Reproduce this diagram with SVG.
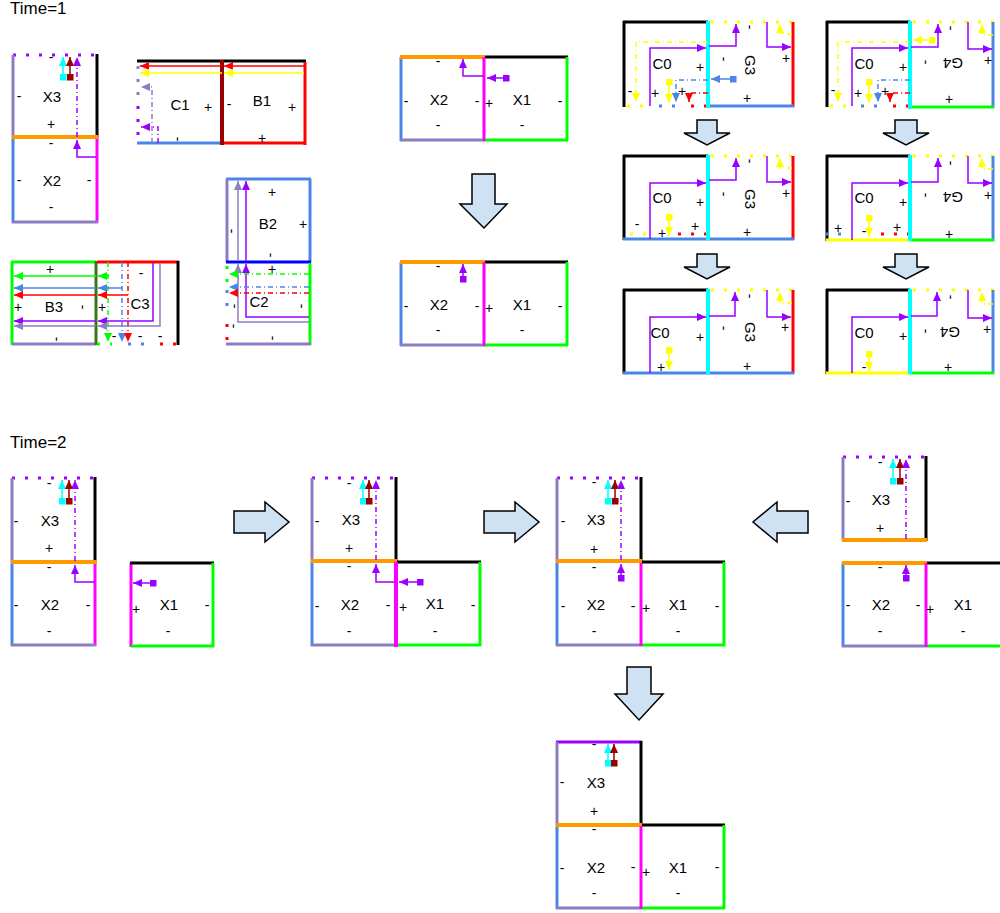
<svg xmlns="http://www.w3.org/2000/svg" width="1000" height="913" viewBox="0 0 1000 913">
<style>
.e{fill:none;stroke-width:3}
.k{stroke:#000}
.pg{stroke:#8e7cc3}
.bl{stroke:#4a86e8}
.mg{stroke:#ff00ff}
.or{stroke:#ff9900;stroke-width:4}
.gr{stroke:#00ff00}
.rd{stroke:#ff0000}
.dr{stroke:#990000}
.cy{stroke:#00ffff;stroke-width:4}
.ye{stroke:#ffff00}
.vi{stroke:#9900ff}
.dg{stroke:#38761d}
.db{stroke:#0000ff}
.w4{stroke-width:4}
.dot{stroke-dasharray:3 10}
.a{fill:none;stroke-width:1.5}
.dd{stroke-dasharray:5 3 1 3}
.t{font-family:"Liberation Sans",Arial,sans-serif;font-size:15px;text-anchor:middle;fill:#000}
.s{font-size:14px}
.h{font-size:17px;text-anchor:start}
.ba{fill:#cfe2f3;stroke:#000;stroke-width:1.5}
</style>
<defs>
<marker id="aV" viewBox="0 0 10 10" refX="10" refY="5" markerWidth="9" markerHeight="8" orient="auto" markerUnits="userSpaceOnUse" preserveAspectRatio="none"><path d="M0,0L10,5L0,10z" fill="#9900ff"/></marker>
<marker id="aC" viewBox="0 0 10 10" refX="10" refY="5" markerWidth="9" markerHeight="8" orient="auto" markerUnits="userSpaceOnUse" preserveAspectRatio="none"><path d="M0,0L10,5L0,10z" fill="#00ffff"/></marker>
<marker id="aD" viewBox="0 0 10 10" refX="10" refY="5" markerWidth="9" markerHeight="8" orient="auto" markerUnits="userSpaceOnUse" preserveAspectRatio="none"><path d="M0,0L10,5L0,10z" fill="#990000"/></marker>
<marker id="aY" viewBox="0 0 10 10" refX="10" refY="5" markerWidth="9" markerHeight="8" orient="auto" markerUnits="userSpaceOnUse" preserveAspectRatio="none"><path d="M0,0L10,5L0,10z" fill="#ffff00"/></marker>
<marker id="aB" viewBox="0 0 10 10" refX="10" refY="5" markerWidth="9" markerHeight="8" orient="auto" markerUnits="userSpaceOnUse" preserveAspectRatio="none"><path d="M0,0L10,5L0,10z" fill="#4a86e8"/></marker>
<marker id="aR" viewBox="0 0 10 10" refX="10" refY="5" markerWidth="9" markerHeight="8" orient="auto" markerUnits="userSpaceOnUse" preserveAspectRatio="none"><path d="M0,0L10,5L0,10z" fill="#ff0000"/></marker>
<marker id="aG" viewBox="0 0 10 10" refX="10" refY="5" markerWidth="9" markerHeight="8" orient="auto" markerUnits="userSpaceOnUse" preserveAspectRatio="none"><path d="M0,0L10,5L0,10z" fill="#00ff00"/></marker>
<marker id="aP" viewBox="0 0 10 10" refX="10" refY="5" markerWidth="9" markerHeight="8" orient="auto" markerUnits="userSpaceOnUse" preserveAspectRatio="none"><path d="M0,0L10,5L0,10z" fill="#8e7cc3"/></marker>
<marker id="sV" viewBox="0 0 10 10" refX="5" refY="5" markerWidth="7" markerHeight="7" markerUnits="userSpaceOnUse"><rect width="10" height="10" fill="#9900ff"/></marker>
<marker id="sC" viewBox="0 0 10 10" refX="5" refY="5" markerWidth="7" markerHeight="7" markerUnits="userSpaceOnUse"><rect width="10" height="10" fill="#00ffff"/></marker>
<marker id="sD" viewBox="0 0 10 10" refX="5" refY="5" markerWidth="7" markerHeight="7" markerUnits="userSpaceOnUse"><rect width="10" height="10" fill="#990000"/></marker>
<marker id="sY" viewBox="0 0 10 10" refX="5" refY="5" markerWidth="7" markerHeight="7" markerUnits="userSpaceOnUse"><rect width="10" height="10" fill="#ffff00"/></marker>
<marker id="sB" viewBox="0 0 10 10" refX="5" refY="5" markerWidth="7" markerHeight="7" markerUnits="userSpaceOnUse"><rect width="10" height="10" fill="#4a86e8"/></marker>
</defs>
<rect width="1000" height="913" fill="#fff"/>
<text class="t h" x="10" y="14">Time=1</text>
<text class="t h" x="10" y="448">Time=2</text>

<!-- ===== Time=1: X3/X2 ===== -->
<g id="t1a-x3">
<line class="e vi dot" x1="13" y1="55" x2="97" y2="55"/>
<line class="e pg" x1="13" y1="55" x2="13" y2="137"/>
<line class="e k" x1="97" y1="54" x2="97" y2="137"/>
<text class="t s" x="51" y="62">-</text>
<text class="t" x="52" y="102">X3</text>
<text class="t s" x="19" y="101">-</text>
<text class="t s" x="51" y="129">+</text>
</g>
<g id="t1a-x2">
<line class="e bl" x1="13" y1="137" x2="13" y2="223"/>
<line class="e mg" x1="97" y1="137" x2="97" y2="223"/>
<line class="e pg" x1="12" y1="222" x2="98" y2="222"/>
<line class="e or" x1="12" y1="137" x2="98" y2="137"/>
<text class="t s" x="51" y="148">-</text>
<text class="t s" x="19" y="185">-</text>
<text class="t" x="52" y="186">X2</text>
<text class="t s" x="89" y="185">-</text>
<text class="t s" x="51" y="212">-</text>
</g>

<!-- ===== C1/B1 ===== -->
<g id="t1-c1">
<line class="e k" x1="137" y1="61" x2="222" y2="61"/>
<line class="e pg dot" x1="138" y1="66" x2="138" y2="100"/>
<line class="e vi dot" x1="138" y1="106" x2="138" y2="143"/>
<line class="e bl" x1="137" y1="143" x2="222" y2="143"/>
<text class="t" x="180" y="110">C1</text>
<text class="t s" x="208" y="112">+</text>
<text class="t s" x="177" y="143" transform="rotate(90 177 139)">-</text>
</g>
<g id="t1-b1">
<line class="e k" x1="222" y1="61" x2="306" y2="61"/>
<line class="e rd" x1="305" y1="62" x2="305" y2="145"/>
<line class="e rd" x1="222" y1="143" x2="306" y2="143"/>
<line class="e dr w4" x1="222" y1="60" x2="222" y2="145"/>
<text class="t s" x="229" y="109">-</text>
<text class="t" x="262" y="106">B1</text>
<text class="t s" x="292" y="112">+</text>
<text class="t s" x="262" y="143">+</text>
</g>

<!-- ===== B3/C3 ===== -->
<g id="t1-b3">
<line class="e gr" x1="11" y1="262" x2="96" y2="262"/>
<line class="e gr" x1="12" y1="262" x2="12" y2="345"/>
<line class="e pg" x1="12" y1="344" x2="96" y2="344"/>
<line class="e dg" x1="96" y1="261" x2="96" y2="345"/>
<text class="t s" x="50" y="274">+</text>
<text class="t" x="54" y="312">B3</text>
<text class="t s" x="18" y="312">+</text>
<text class="t s" x="82" y="311" transform="rotate(90 82 307)">-</text>
<text class="t s" x="56" y="343" transform="rotate(90 56 339)">-</text>
</g>
<g id="t1-c3">
<line class="e rd" x1="97" y1="262" x2="179" y2="262"/>
<line class="e k" x1="178" y1="261" x2="178" y2="345"/>
<line class="e gr dot" x1="97" y1="344" x2="112" y2="344"/>
<line class="e bl dot" x1="128" y1="344" x2="146" y2="344"/>
<line class="e rd dot" x1="160" y1="344" x2="178" y2="344"/>
<text class="t s" x="102" y="312">+</text>
<text class="t s" x="141" y="278">-</text>
<text class="t" x="140" y="309">C3</text>
<text class="t s" x="114" y="341">-</text>
<text class="t s" x="140" y="341">-</text>
<text class="t s" x="160" y="341">-</text>
</g>

<!-- ===== B2/C2 ===== -->
<g id="t1-b2">
<line class="e bl" x1="226" y1="179" x2="311" y2="179"/>
<line class="e pg" x1="227" y1="179" x2="227" y2="262"/>
<line class="e bl" x1="310" y1="179" x2="310" y2="262"/>
<line class="e db" x1="226" y1="262" x2="311" y2="262"/>
<text class="t s" x="272" y="197">+</text>
<text class="t" x="268" y="229">B2</text>
<text class="t s" x="303" y="229">+</text>
<text class="t s" x="231" y="235" transform="rotate(90 231 231)">-</text>
<text class="t s" x="270" y="259" transform="rotate(90 270 255)">-</text>
</g>
<g id="t1-c2">
<line class="e gr" x1="310" y1="263" x2="310" y2="345"/>
<line class="e pg" x1="226" y1="344" x2="311" y2="344"/>
<line class="e gr dot" x1="227" y1="266" x2="227" y2="282"/>
<line class="e bl dot" x1="227" y1="290" x2="227" y2="312"/>
<line class="e rd dot" x1="227" y1="324" x2="227" y2="344"/>
<text class="t s" x="272" y="274">+</text>
<text class="t" x="259" y="307">C2</text>
<text class="t s" x="234" y="310" transform="rotate(90 234 306)">-</text>
<text class="t s" x="233" y="330" transform="rotate(90 233 326)">-</text>
<text class="t s" x="301" y="310" transform="rotate(90 301 306)">-</text>
<text class="t s" x="272" y="342" transform="rotate(90 272 338)">-</text>
</g>

<!-- ===== middle X2/X1 ===== -->
<g id="t1b-x2">
<line class="e bl" x1="401" y1="57" x2="401" y2="141"/>
<line class="e pg" x1="400" y1="140" x2="485" y2="140"/>
<line class="e or" x1="400" y1="57" x2="485" y2="57"/>
<text class="t s" x="438" y="66">-</text>
<text class="t s" x="406" y="106">-</text>
<text class="t" x="439" y="105">X2</text>
<text class="t s" x="477" y="106">-</text>
<text class="t s" x="438" y="130">-</text>
</g>
<g id="t1b-x1">
<line class="e k" x1="485" y1="57" x2="568" y2="57"/>
<line class="e gr" x1="567" y1="57" x2="567" y2="141"/>
<line class="e gr" x1="484" y1="140" x2="568" y2="140"/>
<line class="e mg" x1="484" y1="57" x2="484" y2="141"/>
<text class="t s" x="489" y="108">+</text>
<text class="t" x="522" y="105">X1</text>
<text class="t s" x="560" y="106">-</text>
<text class="t s" x="522" y="130">-</text>
</g>
<g id="t1c-x2">
<line class="e bl" x1="401" y1="262" x2="401" y2="346"/>
<line class="e pg" x1="400" y1="345" x2="485" y2="345"/>
<line class="e or" x1="400" y1="262" x2="485" y2="262"/>
<text class="t s" x="438" y="271">-</text>
<text class="t s" x="406" y="311">-</text>
<text class="t" x="439" y="310">X2</text>
<text class="t s" x="477" y="311">-</text>
<text class="t s" x="438" y="335">-</text>
</g>
<g id="t1c-x1">
<line class="e k" x1="485" y1="262" x2="568" y2="262"/>
<line class="e gr" x1="567" y1="262" x2="567" y2="346"/>
<line class="e gr" x1="484" y1="345" x2="568" y2="345"/>
<line class="e mg" x1="484" y1="262" x2="484" y2="346"/>
<text class="t s" x="489" y="313">+</text>
<text class="t" x="522" y="310">X1</text>
<text class="t s" x="560" y="311">-</text>
<text class="t s" x="522" y="335">-</text>
</g>

<!-- ===== C0/G3 column ===== -->
<g id="g3r1-c0">
<line class="e k" x1="624" y1="21" x2="624" y2="107"/>
<line class="e k" x1="623" y1="22" x2="708" y2="22"/>
<line class="e ye dot" x1="627" y1="106" x2="647" y2="106"/>
<line class="e bl dot" x1="659" y1="106" x2="678" y2="106"/>
<line class="e rd dot" x1="691" y1="106" x2="708" y2="106"/>
<text class="t" x="662" y="69">C0</text>
<text class="t s" x="700" y="72">+</text>
<text class="t s" x="630" y="96">-</text>
<text class="t s" x="655" y="98">+</text>
<text class="t s" x="682" y="96">+</text>
</g>
<g id="g3r1-g3">
<line class="e ye dot" x1="711" y1="22" x2="795" y2="22"/>
<line class="e rd" x1="793" y1="22" x2="793" y2="107"/>
<line class="e bl" x1="708" y1="106" x2="794" y2="106"/>
<line class="e cy" x1="708" y1="21" x2="708" y2="108"/>
<text class="t s" x="723" y="63" transform="rotate(90 723 59)">-</text>
<text class="t" x="750" y="70" transform="rotate(90 750 65)">G3</text>
<text class="t s" x="749" y="31" transform="rotate(90 749 27)">-</text>
<text class="t s" x="786" y="63">+</text>
<text class="t s" x="747" y="103">+</text>
</g>
<g id="g3r2-c0">
<line class="e k" x1="624" y1="155" x2="624" y2="240"/>
<line class="e k" x1="623" y1="156" x2="708" y2="156"/>
<line class="e ye dot" x1="630" y1="234" x2="650" y2="234"/>
<line class="e rd dot" x1="678" y1="234" x2="708" y2="234"/>
<text class="t" x="662" y="203">C0</text>
<text class="t s" x="700" y="207">+</text>
<text class="t s" x="637" y="229">-</text>
<text class="t s" x="662" y="238">+</text>
<text class="t s" x="695" y="231">+</text>
</g>
<g id="g3r2-g3">
<line class="e ye dot" x1="711" y1="156" x2="795" y2="156"/>
<line class="e rd" x1="793" y1="156" x2="793" y2="240"/>
<line class="e bl" x1="623" y1="239" x2="794" y2="239"/>
<line class="e cy" x1="708" y1="155" x2="708" y2="240"/>
<text class="t s" x="723" y="198" transform="rotate(90 723 194)">-</text>
<text class="t" x="750" y="204" transform="rotate(90 750 199)">G3</text>
<text class="t s" x="749" y="165" transform="rotate(90 749 161)">-</text>
<text class="t s" x="786" y="198">+</text>
<text class="t s" x="747" y="237">+</text>
</g>
<g id="g3r3-c0">
<line class="e k" x1="624" y1="289" x2="624" y2="374"/>
<line class="e k" x1="623" y1="290" x2="708" y2="290"/>
<text class="t" x="660" y="338">C0</text>
<text class="t s" x="700" y="342">+</text>
<text class="t s" x="661" y="372">+</text>
</g>
<g id="g3r3-g3">
<line class="e ye dot" x1="711" y1="290" x2="795" y2="290"/>
<line class="e rd" x1="793" y1="290" x2="793" y2="374"/>
<line class="e bl" x1="623" y1="373" x2="794" y2="373"/>
<line class="e cy" x1="708" y1="289" x2="708" y2="374"/>
<text class="t s" x="723" y="332" transform="rotate(90 723 328)">-</text>
<text class="t" x="750" y="337" transform="rotate(90 750 332)">G3</text>
<text class="t s" x="749" y="300" transform="rotate(90 749 296)">-</text>
<text class="t s" x="785" y="332">+</text>
<text class="t s" x="747" y="371">+</text>
</g>

<!-- ===== C0/G4 column ===== -->
<g id="g4r1-c0">
<line class="e k" x1="827" y1="21" x2="827" y2="107"/>
<line class="e k" x1="826" y1="22" x2="910" y2="22"/>
<line class="e ye dot" x1="830" y1="106" x2="850" y2="106"/>
<line class="e bl dot" x1="861" y1="106" x2="880" y2="106"/>
<line class="e rd dot" x1="893" y1="106" x2="910" y2="106"/>
<text class="t" x="864" y="69">C0</text>
<text class="t s" x="903" y="72">+</text>
<text class="t s" x="833" y="95">-</text>
<text class="t s" x="858" y="98">+</text>
<text class="t s" x="885" y="96">+</text>
</g>
<g id="g4r1-g4">
<line class="e ye dot" x1="913" y1="22" x2="997" y2="22"/>
<line class="e bl" x1="993" y1="22" x2="993" y2="108"/>
<line class="e gr" x1="910" y1="107" x2="994" y2="107"/>
<line class="e cy" x1="910" y1="21" x2="910" y2="109"/>
<text class="t s" x="925" y="66" transform="rotate(90 925 62)">-</text>
<text class="t" x="953" y="68" transform="rotate(180 953 63)">G4</text>
<text class="t s" x="950" y="32" transform="rotate(90 950 28)">-</text>
<text class="t s" x="988" y="65">+</text>
<text class="t s" x="949" y="104">+</text>
</g>
<g id="g4r2-c0">
<line class="e k" x1="827" y1="155" x2="827" y2="241"/>
<line class="e k" x1="826" y1="156" x2="910" y2="156"/>
<line class="e bl dot" x1="825" y1="234" x2="850" y2="234"/>
<line class="e rd dot" x1="881" y1="234" x2="910" y2="234"/>
<line class="e ye" x1="826" y1="240" x2="910" y2="240"/>
<text class="t" x="864" y="203">C0</text>
<text class="t s" x="903" y="207">+</text>
<text class="t s" x="838" y="233">+</text>
<text class="t s" x="864" y="236">-</text>
<text class="t s" x="897" y="232">+</text>
</g>
<g id="g4r2-g4">
<line class="e ye dot" x1="913" y1="156" x2="997" y2="156"/>
<line class="e bl" x1="993" y1="156" x2="993" y2="241"/>
<line class="e gr" x1="910" y1="240" x2="994" y2="240"/>
<line class="e cy" x1="910" y1="155" x2="910" y2="241"/>
<text class="t s" x="925" y="199" transform="rotate(90 925 195)">-</text>
<text class="t" x="953" y="202" transform="rotate(180 953 197)">G4</text>
<text class="t s" x="950" y="167" transform="rotate(90 950 163)">-</text>
<text class="t s" x="988" y="200">+</text>
<text class="t s" x="949" y="239">+</text>
</g>
<g id="g4r3-c0">
<line class="e k" x1="827" y1="289" x2="827" y2="374"/>
<line class="e k" x1="826" y1="290" x2="910" y2="290"/>
<line class="e ye" x1="826" y1="373" x2="910" y2="373"/>
<text class="t" x="864" y="338">C0</text>
<text class="t s" x="903" y="341">+</text>
<text class="t s" x="864" y="372">-</text>
</g>
<g id="g4r3-g4">
<line class="e ye dot" x1="913" y1="290" x2="997" y2="290"/>
<line class="e bl" x1="993" y1="290" x2="993" y2="374"/>
<line class="e gr" x1="910" y1="373" x2="994" y2="373"/>
<line class="e cy" x1="910" y1="289" x2="910" y2="374"/>
<text class="t s" x="925" y="335" transform="rotate(90 925 331)">-</text>
<text class="t" x="950" y="337" transform="rotate(180 950 332)">G4</text>
<text class="t s" x="950" y="301" transform="rotate(90 950 297)">-</text>
<text class="t s" x="987" y="334">+</text>
<text class="t s" x="948" y="372">+</text>
</g>

<!-- ===== Time=2 panel 1 ===== -->
<g id="t2a-x3">
<line class="e vi dot" x1="12" y1="478" x2="96" y2="478"/>
<line class="e pg" x1="12" y1="478" x2="12" y2="562"/>
<line class="e k" x1="95" y1="477" x2="95" y2="562"/>
<text class="t s" x="49" y="488">-</text>
<text class="t s" x="16" y="526">-</text>
<text class="t" x="50" y="526">X3</text>
<text class="t s" x="49" y="553">+</text>
</g>
<g id="t2a-x2">
<line class="e bl" x1="12" y1="562" x2="12" y2="646"/>
<line class="e mg" x1="95" y1="562" x2="95" y2="646"/>
<line class="e pg" x1="11" y1="645" x2="96" y2="645"/>
<line class="e or" x1="11" y1="562" x2="97" y2="562"/>
<text class="t s" x="49" y="572">-</text>
<text class="t s" x="16" y="610">-</text>
<text class="t" x="50" y="610">X2</text>
<text class="t s" x="88" y="610">-</text>
<text class="t s" x="49" y="636">-</text>
</g>
<g id="t2a-x1">
<line class="e mg" x1="131" y1="563" x2="131" y2="647"/>
<line class="e k" x1="130" y1="563" x2="214" y2="563"/>
<line class="e gr" x1="213" y1="563" x2="213" y2="647"/>
<line class="e gr" x1="131" y1="646" x2="214" y2="646"/>
<text class="t s" x="136" y="614">+</text>
<text class="t" x="169" y="610">X1</text>
<text class="t s" x="207" y="610">-</text>
<text class="t s" x="168" y="636">-</text>
</g>

<!-- ===== Time=2 panel 2 ===== -->
<g id="t2b-x3">
<line class="e vi dot" x1="312" y1="478" x2="396" y2="478"/>
<line class="e pg" x1="312" y1="478" x2="312" y2="561"/>
<line class="e k" x1="396" y1="477" x2="396" y2="562"/>
<text class="t s" x="349" y="488">-</text>
<text class="t s" x="317" y="526">-</text>
<text class="t" x="351" y="525">X3</text>
<text class="t s" x="349" y="553">+</text>
</g>
<g id="t2b-x2">
<line class="e bl" x1="312" y1="561" x2="312" y2="646"/>
<line class="e pg" x1="311" y1="645" x2="396" y2="645"/>
<line class="e or" x1="311" y1="561" x2="397" y2="561"/>
<text class="t s" x="349" y="571">-</text>
<text class="t s" x="317" y="611">-</text>
<text class="t" x="350" y="610">X2</text>
<text class="t s" x="388" y="610">-</text>
<text class="t s" x="349" y="636">-</text>
</g>
<g id="t2b-x1">
<line class="e k" x1="397" y1="562" x2="481" y2="562"/>
<line class="e gr" x1="480" y1="562" x2="480" y2="646"/>
<line class="e gr" x1="396" y1="645" x2="481" y2="645"/>
<line class="e mg w4" x1="396" y1="562" x2="396" y2="647"/>
<text class="t s" x="403" y="612">+</text>
<text class="t" x="435" y="609">X1</text>
<text class="t s" x="473" y="610">-</text>
<text class="t s" x="435" y="636">-</text>
</g>

<!-- ===== Time=2 panel 3 ===== -->
<g id="t2c-x3">
<line class="e vi dot" x1="557" y1="478" x2="641" y2="478"/>
<line class="e pg" x1="557" y1="478" x2="557" y2="561"/>
<line class="e k" x1="641" y1="477" x2="641" y2="562"/>
<text class="t s" x="594" y="487">-</text>
<text class="t s" x="563" y="526">-</text>
<text class="t" x="596" y="525">X3</text>
<text class="t s" x="594" y="554">+</text>
</g>
<g id="t2c-x2">
<line class="e bl" x1="557" y1="561" x2="557" y2="646"/>
<line class="e pg" x1="556" y1="645" x2="641" y2="645"/>
<line class="e or" x1="556" y1="561" x2="642" y2="561"/>
<text class="t s" x="594" y="572">-</text>
<text class="t s" x="563" y="611">-</text>
<text class="t" x="596" y="610">X2</text>
<text class="t s" x="633" y="611">-</text>
<text class="t s" x="594" y="636">-</text>
</g>
<g id="t2c-x1">
<line class="e k" x1="642" y1="562" x2="725" y2="562"/>
<line class="e gr" x1="724" y1="562" x2="724" y2="646"/>
<line class="e gr" x1="641" y1="645" x2="725" y2="645"/>
<line class="e mg" x1="641" y1="563" x2="641" y2="646"/>
<text class="t s" x="646" y="613">+</text>
<text class="t" x="678" y="610">X1</text>
<text class="t s" x="717" y="611">-</text>
<text class="t s" x="678" y="636">-</text>
</g>

<!-- ===== Time=2 panel 4 ===== -->
<g id="t2d-x3">
<line class="e vi dot" x1="843" y1="457" x2="927" y2="457"/>
<line class="e pg" x1="843" y1="457" x2="843" y2="540"/>
<line class="e k" x1="926" y1="456" x2="926" y2="541"/>
<line class="e or" x1="842" y1="540" x2="927" y2="540"/>
<text class="t s" x="880" y="467">-</text>
<text class="t s" x="848" y="506">-</text>
<text class="t" x="881" y="505">X3</text>
<text class="t s" x="880" y="533">+</text>
</g>
<g id="t2d-x2">
<line class="e bl" x1="843" y1="563" x2="843" y2="647"/>
<line class="e pg" x1="842" y1="646" x2="926" y2="646"/>
<line class="e or" x1="842" y1="563" x2="927" y2="563"/>
<text class="t s" x="880" y="572">-</text>
<text class="t s" x="848" y="610">-</text>
<text class="t" x="881" y="610">X2</text>
<text class="t s" x="918" y="610">-</text>
<text class="t s" x="880" y="636">-</text>
</g>
<g id="t2d-x1">
<line class="e k" x1="927" y1="563" x2="1000" y2="563"/>
<line class="e gr" x1="926" y1="646" x2="1000" y2="646"/>
<line class="e mg" x1="926" y1="563" x2="926" y2="647"/>
<text class="t s" x="930" y="614">+</text>
<text class="t" x="963" y="610">X1</text>
<text class="t s" x="963" y="636">-</text>
</g>

<!-- ===== Time=2 panel 5 ===== -->
<g id="t2e-x3">
<line class="e vi" x1="556" y1="742" x2="642" y2="742"/>
<line class="e pg" x1="557" y1="742" x2="557" y2="825"/>
<line class="e k" x1="641" y1="741" x2="641" y2="825"/>
<text class="t s" x="594" y="749">-</text>
<text class="t s" x="562" y="787">-</text>
<text class="t" x="596" y="788">X3</text>
<text class="t s" x="594" y="816">+</text>
</g>
<g id="t2e-x2">
<line class="e bl" x1="557" y1="825" x2="557" y2="909"/>
<line class="e pg" x1="556" y1="908" x2="641" y2="908"/>
<line class="e or" x1="556" y1="825" x2="642" y2="825"/>
<text class="t s" x="594" y="834">-</text>
<text class="t s" x="562" y="873">-</text>
<text class="t" x="596" y="873">X2</text>
<text class="t s" x="633" y="872">-</text>
<text class="t s" x="594" y="898">-</text>
</g>
<g id="t2e-x1">
<line class="e k" x1="642" y1="825" x2="725" y2="825"/>
<line class="e gr" x1="724" y1="825" x2="724" y2="909"/>
<line class="e gr" x1="641" y1="908" x2="725" y2="908"/>
<line class="e mg" x1="641" y1="826" x2="641" y2="909"/>
<text class="t s" x="646" y="877">+</text>
<text class="t" x="678" y="873">X1</text>
<text class="t s" x="717" y="872">-</text>
<text class="t s" x="678" y="898">-</text>
</g>

<!-- ===== transitions (block arrows) ===== -->
<g id="transitions">
<path class="ba" d="M472,174H495V204H507L484,228L460,204H472Z"/>
<path class="ba" d="M697,120H717V133H730L707,145L684,133H697Z"/>
<path class="ba" d="M697,254H717V267H730L707,279L684,267H697Z"/>
<path class="ba" d="M895,120H917V133H929L906,145L883,133H895Z"/>
<path class="ba" d="M895,254H917V267H929L906,279L883,267H895Z"/>
<path class="ba" d="M234,511H265V502L289,522L265,542V533H234Z"/>
<path class="ba" d="M484,511H515V502L539,522L515,542V533H484Z"/>
<path class="ba" d="M808,511H777V502L753,522L777,542V533H808Z"/>
<path class="ba" d="M627,667H651V694H663L639,720L615,694H627Z"/>
</g>

<!-- ===== connectors ===== -->
<g id="connectors">
<path class="a cy" d="M63,77V57" marker-start="url(#sC)" marker-end="url(#aC)"/>
<path class="a dr" d="M70,77V57" marker-start="url(#sD)" marker-end="url(#aD)"/>
<path class="a vi dd" d="M77,137V57" marker-end="url(#aV)"/>
<path class="a vi" d="M96,157H77V140" marker-end="url(#aV)"/>
<path class="a rd" d="M304,66H224" marker-end="url(#aR)"/>
<path class="a rd" d="M222,66H140" marker-end="url(#aR)"/>
<path class="a ye" d="M304,73H224" marker-end="url(#aY)"/>
<path class="a ye" d="M222,73H140" marker-end="url(#aY)"/>
<path class="a pg dd" d="M152,143V87H141" marker-end="url(#aP)"/>
<path class="a vi dd" d="M158,143V127H141" marker-end="url(#aV)"/>
<path class="a gr dd" d="M108,262V342" marker-end="url(#aG)"/>
<path class="a bl dd" d="M122,262V342" marker-end="url(#aB)"/>
<path class="a rd dd" d="M128,262V342" marker-end="url(#aR)"/>
<path class="a gr" d="M108,276H98" marker-end="url(#aG)"/>
<path class="a gr" d="M96,276H14" marker-end="url(#aG)"/>
<path class="a bl" d="M122,288H98" marker-end="url(#aB)"/>
<path class="a bl" d="M96,288H14" marker-end="url(#aB)"/>
<path class="a rd" d="M128,295H98" marker-end="url(#aR)"/>
<path class="a rd" d="M96,295H14" marker-end="url(#aR)"/>
<path class="a vi" d="M153,263V321H98" marker-end="url(#aV)"/>
<path class="a vi" d="M96,321H14" marker-end="url(#aV)"/>
<path class="a pg" d="M160,263V326H98" marker-end="url(#aP)"/>
<path class="a pg" d="M96,326H14" marker-end="url(#aP)"/>
<path class="a vi" d="M309,317H246V264" marker-end="url(#aV)"/>
<path class="a vi" d="M246,261V181" marker-end="url(#aV)"/>
<path class="a pg" d="M309,322H238V264" marker-end="url(#aP)"/>
<path class="a pg" d="M238,261V181" marker-end="url(#aP)"/>
<path class="a gr dd" d="M309,274H229" marker-end="url(#aG)"/>
<path class="a bl dd" d="M309,287H229" marker-end="url(#aB)"/>
<path class="a rd dd" d="M309,293H229" marker-end="url(#aR)"/>
<path class="a vi" d="M506,78H487" marker-start="url(#sV)" marker-end="url(#aV)"/>
<path class="a vi" d="M484,76H463V59" marker-end="url(#aV)"/>
<path class="a vi" d="M463,279V264" marker-start="url(#sV)" marker-end="url(#aV)"/>
<path class="a ye dd" d="M708,42H636V102" marker-end="url(#aY)"/>
<path class="a vi" d="M650,106V48H706" marker-end="url(#aV)"/>
<path class="a vi" d="M709,46H736V24" marker-end="url(#aV)"/>
<path class="a vi" d="M767,22V47H791" marker-end="url(#aV)"/>
<path class="a ye dd" d="M792,34H780V24" marker-end="url(#aY)"/>
<path class="a ye" d="M669,82V103" marker-start="url(#sY)" marker-end="url(#aY)"/>
<path class="a bl" d="M733,79H711" marker-start="url(#sB)" marker-end="url(#aB)"/>
<path class="a bl dd" d="M708,80H676V102" marker-end="url(#aB)"/>
<path class="a rd dd" d="M708,93H689V102" marker-end="url(#aR)"/>
<path class="a vi" d="M650,239V183H706" marker-end="url(#aV)"/>
<path class="a vi" d="M709,180H736V158" marker-end="url(#aV)"/>
<path class="a vi" d="M767,156V182H791" marker-end="url(#aV)"/>
<path class="a ye dd" d="M792,168H780V158" marker-end="url(#aY)"/>
<path class="a ye" d="M669,217V236" marker-start="url(#sY)" marker-end="url(#aY)"/>
<path class="a vi" d="M650,373V317H706" marker-end="url(#aV)"/>
<path class="a vi" d="M709,316H735V292" marker-end="url(#aV)"/>
<path class="a vi" d="M767,290V317H791" marker-end="url(#aV)"/>
<path class="a ye dd" d="M792,303H780V292" marker-end="url(#aY)"/>
<path class="a ye" d="M669,350V370" marker-start="url(#sY)" marker-end="url(#aY)"/>
<path class="a ye dd" d="M910,42H838V102" marker-end="url(#aY)"/>
<path class="a ye" d="M932,40H913" marker-start="url(#sY)" marker-end="url(#aY)"/>
<path class="a vi" d="M852,106V48H908" marker-end="url(#aV)"/>
<path class="a vi" d="M911,47H938V24" marker-end="url(#aV)"/>
<path class="a vi" d="M968,22V49H992" marker-end="url(#aV)"/>
<path class="a ye dd" d="M993,35H982V24" marker-end="url(#aY)"/>
<path class="a ye" d="M869,82V103" marker-start="url(#sY)" marker-end="url(#aY)"/>
<path class="a bl dd" d="M910,80H878V102" marker-end="url(#aB)"/>
<path class="a rd dd" d="M910,93H890V102" marker-end="url(#aR)"/>
<path class="a vi" d="M852,240V183H908" marker-end="url(#aV)"/>
<path class="a vi" d="M911,182H938V158" marker-end="url(#aV)"/>
<path class="a vi" d="M968,156V183H992" marker-end="url(#aV)"/>
<path class="a ye dd" d="M993,169H982V158" marker-end="url(#aY)"/>
<path class="a ye" d="M869,218V237" marker-start="url(#sY)" marker-end="url(#aY)"/>
<path class="a vi" d="M852,373V317H908" marker-end="url(#aV)"/>
<path class="a vi" d="M911,316H937V292" marker-end="url(#aV)"/>
<path class="a vi" d="M968,290V318H992" marker-end="url(#aV)"/>
<path class="a ye dd" d="M993,304H982V292" marker-end="url(#aY)"/>
<path class="a ye" d="M869,354V371" marker-start="url(#sY)" marker-end="url(#aY)"/>
<path class="a cy" d="M62,501V480" marker-start="url(#sC)" marker-end="url(#aC)"/>
<path class="a dr" d="M69,501V480" marker-start="url(#sD)" marker-end="url(#aD)"/>
<path class="a vi dd" d="M75,561V480" marker-end="url(#aV)"/>
<path class="a vi" d="M95,582H75V565" marker-end="url(#aV)"/>
<path class="a vi" d="M153,583H133" marker-start="url(#sV)" marker-end="url(#aV)"/>
<path class="a cy" d="M363,501V480" marker-start="url(#sC)" marker-end="url(#aC)"/>
<path class="a dr" d="M369,501V480" marker-start="url(#sD)" marker-end="url(#aD)"/>
<path class="a vi dd" d="M376,560V480" marker-end="url(#aV)"/>
<path class="a vi" d="M420,582H399" marker-start="url(#sV)" marker-end="url(#aV)"/>
<path class="a vi" d="M396,582H376V564" marker-end="url(#aV)"/>
<path class="a cy" d="M608,501V480" marker-start="url(#sC)" marker-end="url(#aC)"/>
<path class="a dr" d="M615,501V480" marker-start="url(#sD)" marker-end="url(#aD)"/>
<path class="a vi dd" d="M621,560V480" marker-end="url(#aV)"/>
<path class="a vi" d="M621,578V564" marker-start="url(#sV)" marker-end="url(#aV)"/>
<path class="a cy" d="M893,481V459" marker-start="url(#sC)" marker-end="url(#aC)"/>
<path class="a dr" d="M900,481V459" marker-start="url(#sD)" marker-end="url(#aD)"/>
<path class="a vi dd" d="M906,539V459" marker-end="url(#aV)"/>
<path class="a vi" d="M906,578V565" marker-start="url(#sV)" marker-end="url(#aV)"/>
<path class="a cy" d="M608,763V744" marker-start="url(#sC)" marker-end="url(#aC)"/>
<path class="a dr" d="M614,763V744" marker-start="url(#sD)" marker-end="url(#aD)"/>
</g>
</svg>
